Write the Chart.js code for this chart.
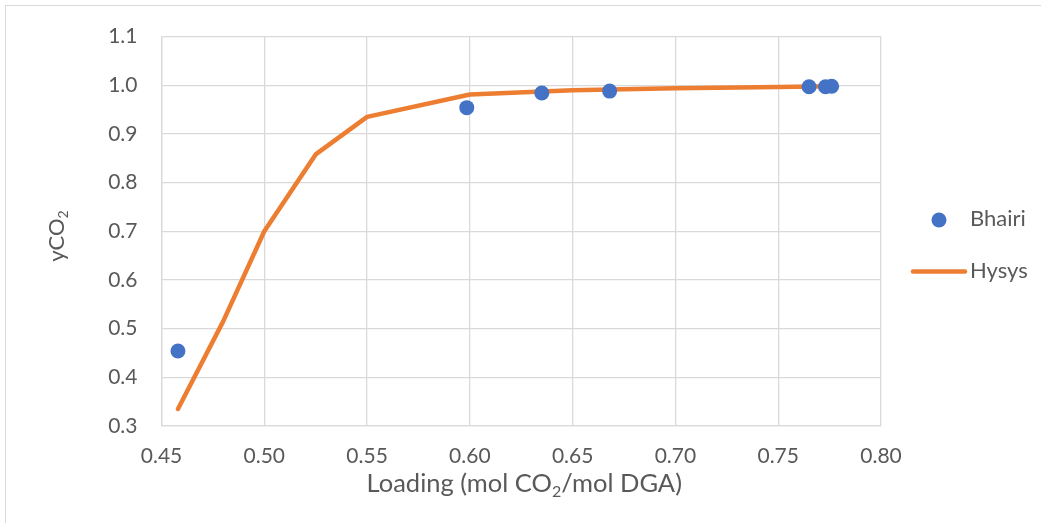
<!DOCTYPE html>
<html>
<head>
<meta charset="utf-8">
<script src="https://cdn.jsdelivr.net/npm/chart.js@4.4.1/dist/chart.umd.min.js"></script>
<style>
html,body{margin:0;padding:0;background:#fff;}
#wrap{position:relative;width:1041px;height:523px;}
</style>
</head>
<body>
<div id="wrap"><canvas id="c" width="1041" height="523"></canvas></div>
<script>
// ---- Data ----
const bhairiX = [0.458, 0.5985, 0.635, 0.668, 0.765, 0.773, 0.776];
const bhairiY = [0.454, 0.954, 0.984, 0.988, 0.997, 0.997, 0.998];
const hysysX = [0.458, 0.48, 0.50, 0.525, 0.55, 0.60, 0.65, 0.70, 0.75, 0.776];
const hysysY = [0.335, 0.515, 0.70, 0.858, 0.935, 0.981, 0.990, 0.994, 0.9965, 0.998];
const xTicks = [0.45, 0.50, 0.55, 0.60, 0.65, 0.70, 0.75, 0.80];
const yTicks = [0.3, 0.4, 0.5, 0.6, 0.7, 0.8, 0.9, 1.0, 1.1];
const seriesNames = ['Bhairi', 'Hysys'];
const xTitleParts = [['Loading (mol CO', false], ['2', true], ['/mol DGA)', false]];
const yTitleParts = [['yCO', false], ['2', true]];

const FONT = 'Lato, "Open Sans", sans-serif';
const TXT = '#595959';

const toPts = (xs, ys) => xs.map((x, i) => ({x: x, y: ys[i]}));

function drawParts(ctx, parts, size) {
  let w = 0;
  parts.forEach(([t, sub]) => {
    ctx.font = (sub ? Math.round(size * 0.62) : size) + 'px ' + FONT;
    ctx.fillText(t, w, sub ? size * 0.22 : 0);
    w += ctx.measureText(t).width;
  });
  return w;
}
function measureParts(ctx, parts, size) {
  let w = 0;
  parts.forEach(([t, sub]) => {
    ctx.font = (sub ? Math.round(size * 0.62) : size) + 'px ' + FONT;
    w += ctx.measureText(t).width;
  });
  return w;
}

const decorPlugin = {
  id: 'decor',
  beforeDraw(chart) {
    const ctx = chart.ctx;
    ctx.save();
    ctx.fillStyle = '#fff';
    ctx.fillRect(0, 0, chart.width, chart.height);
    ctx.strokeStyle = '#d9d9d9';
    ctx.lineWidth = 1;
    ctx.strokeRect(5.5, 5.5, chart.width, chart.height);
    ctx.restore();
  },
  afterDraw(chart) {
    const ctx = chart.ctx;
    const a = chart.chartArea;
    ctx.save();
    ctx.fillStyle = TXT;
    ctx.textBaseline = 'alphabetic';
    ctx.textAlign = 'left';
    // x title
    const xs = 25.5;
    const xw = measureParts(ctx, xTitleParts, xs);
    ctx.save();
    ctx.translate((a.left + a.right) / 2 - xw / 2 + 3, 491.5);
    drawParts(ctx, xTitleParts, xs);
    ctx.restore();
    // y title
    const ys = 22;
    const yw = measureParts(ctx, yTitleParts, ys);
    ctx.save();
    ctx.translate(63.5, 236 + yw / 2);
    ctx.rotate(-Math.PI / 2);
    drawParts(ctx, yTitleParts, ys);
    ctx.restore();
    // legend
    const ds = chart.data.datasets;
    ctx.font = '22px ' + FONT;
    ctx.textBaseline = 'middle';
    ctx.fillStyle = ds[0].backgroundColor;
    ctx.beginPath();
    ctx.arc(939, 220, 7.5, 0, Math.PI * 2);
    ctx.fill();
    ctx.fillStyle = TXT;
    ctx.fillText(ds[0].label, 970, 219);
    ctx.strokeStyle = ds[1].borderColor;
    ctx.lineWidth = 4.5;
    ctx.lineCap = 'round';
    ctx.beginPath();
    ctx.moveTo(913, 271.5);
    ctx.lineTo(965, 271.5);
    ctx.stroke();
    ctx.fillStyle = TXT;
    ctx.fillText(ds[1].label, 970, 271);
    ctx.restore();
  }
};

new Chart(document.getElementById('c'), {
  type: 'scatter',
  data: {
    datasets: [
      {
        label: seriesNames[0],
        data: toPts(bhairiX, bhairiY),
        backgroundColor: '#4472c4',
        borderColor: '#4472c4',
        borderWidth: 0,
        pointRadius: 7.5,
        pointHoverRadius: 7.5,
        showLine: false
      },
      {
        label: seriesNames[1],
        data: toPts(hysysX, hysysY),
        borderColor: '#ed7d31',
        backgroundColor: '#ed7d31',
        borderWidth: 4.5,
        pointRadius: 0,
        showLine: true,
        tension: 0,
        borderCapStyle: 'round',
        borderJoinStyle: 'round'
      }
    ]
  },
  options: {
    responsive: false,
    animation: false,
    devicePixelRatio: 1,
    layout: {padding: {left: 0, right: 160, top: 36, bottom: 0}},
    plugins: {legend: {display: false}, tooltip: {enabled: false}},
    scales: {
      x: {
        type: 'linear',
        min: 0.45, max: 0.80,
        afterBuildTicks: (s) => { s.ticks = xTicks.map(v => ({value: v})); },
        afterFit: (s) => { s.height = 97; },
        grid: {color: '#d9d9d9', lineWidth: 1.3, drawTicks: false},
        border: {color: '#d9d9d9', width: 1.3},
        ticks: {
          color: TXT, padding: 18,
          font: {family: FONT, size: 21},
          callback: (v) => Number(v).toFixed(2),
          maxRotation: 0, autoSkip: false
        }
      },
      y: {
        type: 'linear',
        min: 0.3, max: 1.1,
        afterBuildTicks: (s) => { s.ticks = yTicks.map(v => ({value: v})); },
        afterFit: (s) => { s.width = 161.5; },
        grid: {color: '#d9d9d9', lineWidth: 1.3, drawTicks: false},
        border: {color: '#d9d9d9', width: 1.3},
        ticks: {
          color: TXT, padding: 24,
          font: {family: FONT, size: 21},
          callback: (v) => Number(v).toFixed(1),
          autoSkip: false
        }
      }
    }
  },
  plugins: [decorPlugin]
});
</script>
</body>
</html>
